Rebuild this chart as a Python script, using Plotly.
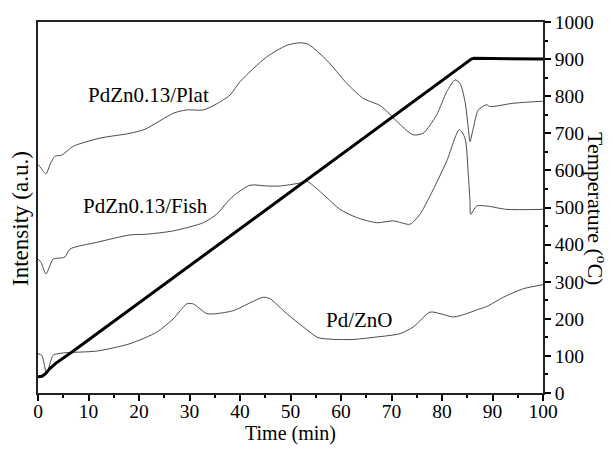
import plotly.graph_objects as go

# Time axis (min) and intensity traces (a.u., drawn on a 0-1000 scale)
plat_t = [0.0, 0.6, 1.58, 2.5, 3.37, 4.69, 6.99, 12.28, 18.22, 21.19, 26.79, 29.45,
          32.73, 35.05, 38.02, 40.0, 45.29, 49.25, 51.88, 53.52, 57.17, 61.13, 64.42,
          67.72, 69.7, 71.68, 74.26, 76.24, 78.95, 80.93, 82.57, 83.56, 84.55, 85.21,
          85.54, 86.2, 87.19, 88.85, 89.5, 94.12, 99.41, 100.0]
plat_i = [616, 606, 591, 620, 638, 641, 665, 687, 700, 711, 754, 763,
          763, 777, 803, 839, 906, 937, 944, 940, 897, 835, 794,
          775, 751, 724, 696, 700, 750, 812, 844, 835, 786, 714,
          678, 714, 763, 777, 772, 781, 786, 786]

fish_t = [0.0, 0.6, 1.58, 3.03, 4.69, 5.35, 6.34, 11.62, 18.22, 21.52, 26.79, 32.73,
          35.39, 37.37, 38.67, 41.98, 45.29, 47.92, 51.88, 53.21, 56.5, 59.8, 63.11,
          67.07, 70.36, 73.66, 75.64, 77.62, 80.93, 83.43, 84.55, 85.21, 85.54, 85.7,
          86.87, 88.85, 92.81, 100.0]
fish_i = [361, 352, 321, 361, 364, 367, 388, 406, 426, 428, 437, 459,
          482, 513, 531, 560, 558, 558, 566, 571, 535, 495, 473,
          459, 464, 455, 482, 531, 625, 710, 687, 589, 517, 482,
          504, 504, 495, 495]

pdzno_t = [0.0, 0.73, 1.72, 3.03, 5.01, 11.62, 18.22, 23.5, 26.79, 29.45, 30.75, 33.41,
           35.39, 38.67, 44.61, 45.94, 49.25, 53.86, 55.5, 61.78, 67.07, 71.68, 74.32,
           77.62, 79.6, 82.24, 84.89, 86.87, 88.85, 92.14, 96.1, 100.0]
pdzno_i = [106, 102, 54, 102, 108, 113, 133, 164, 200, 240, 240, 214,
           214, 222, 258, 254, 214, 164, 149, 144, 151, 160, 178,
           218, 214, 205, 214, 224, 233, 258, 281, 292]

# Temperature programme (°C)
temp_t = [0.0, 0.8, 1.5, 2.3, 3.5, 7.0, 85.8, 86.3, 100.0]
temp_c = [44, 45, 52, 65, 80, 113, 900, 902, 900]

x_ticks = [0, 10, 20, 30, 40, 50, 60, 70, 80, 90, 100]
y2_ticks = [0, 100, 200, 300, 400, 500, 600, 700, 800, 900, 1000]

labels = ["PdZn0.13/Plat", "PdZn0.13/Fish", "Pd/ZnO"]
label_x = [21.8, 21.2, 63.7]
label_y = [804, 503, 198]

FONT = "Liberation Serif"
CURVE = "#4a4a4a"

fig = go.Figure()
for t, i in [(plat_t, plat_i), (fish_t, fish_i), (pdzno_t, pdzno_i)]:
    fig.add_trace(go.Scatter(x=t, y=i, mode="lines", yaxis="y",
                             line=dict(color=CURVE, width=1, shape="spline",
                                       smoothing=0.7),
                             showlegend=False))
fig.add_trace(go.Scatter(x=temp_t, y=temp_c, mode="lines", yaxis="y2",
                         line=dict(color="black", width=3), showlegend=False))

for txt, lx, ly in zip(labels, label_x, label_y):
    fig.add_annotation(x=lx, y=ly, xref="x", yref="y", text=txt, showarrow=False,
                       font=dict(family=FONT, size=21, color="black"))

fig.add_annotation(x=0.5, y=-0.108, xref="paper", yref="paper", text="Time (min)",
                   showarrow=False, xanchor="center", yanchor="middle",
                   font=dict(family=FONT, size=20, color="black"))
fig.add_annotation(x=-0.035, y=0.47, xref="paper", yref="paper",
                   text="Intensity (a.u.)", showarrow=False, textangle=-90,
                   xanchor="center", yanchor="middle",
                   font=dict(family=FONT, size=23, color="black"))
fig.add_annotation(x=1.108, y=0.497, xref="paper", yref="paper",
                   text="Temperature (<sup>o</sup>C)", showarrow=False, textangle=90,
                   xanchor="center", yanchor="middle",
                   font=dict(family=FONT, size=22, color="black"))

fig.update_layout(
    width=613, height=451,
    margin=dict(l=38, r=70, t=20, b=58),
    paper_bgcolor="white", plot_bgcolor="white",
    font=dict(family=FONT, size=19, color="black"),
    xaxis=dict(range=[0, 100], tickvals=x_ticks, ticks="outside", ticklen=6,
               tickwidth=1.5, tickcolor="black", showline=True, linecolor="#222",
               linewidth=1.8, mirror=True, showgrid=False, zeroline=False,
               ticklabelstandoff=-6,
               minor=dict(dtick=5, ticks="outside", ticklen=3.5, tickwidth=1.5,
                          tickcolor="black"),
               tickfont=dict(family=FONT, size=19.5, color="black")),
    yaxis=dict(range=[0, 1000], showticklabels=False, ticks="", showline=True,
               linecolor="#222", linewidth=1.8, showgrid=False, zeroline=False),
    yaxis2=dict(range=[0, 1000], overlaying="y", side="right", tickvals=y2_ticks,
                ticks="outside", ticklen=6, tickwidth=1.5, tickcolor="black",
                showline=True, linecolor="#222", linewidth=1.8, showgrid=False,
                zeroline=False,
                minor=dict(dtick=50, ticks="outside", ticklen=3.5, tickwidth=1.5,
                           tickcolor="black"),
                tickfont=dict(family=FONT, size=19.5, color="black")),
)

fig.write_html("out.html")
